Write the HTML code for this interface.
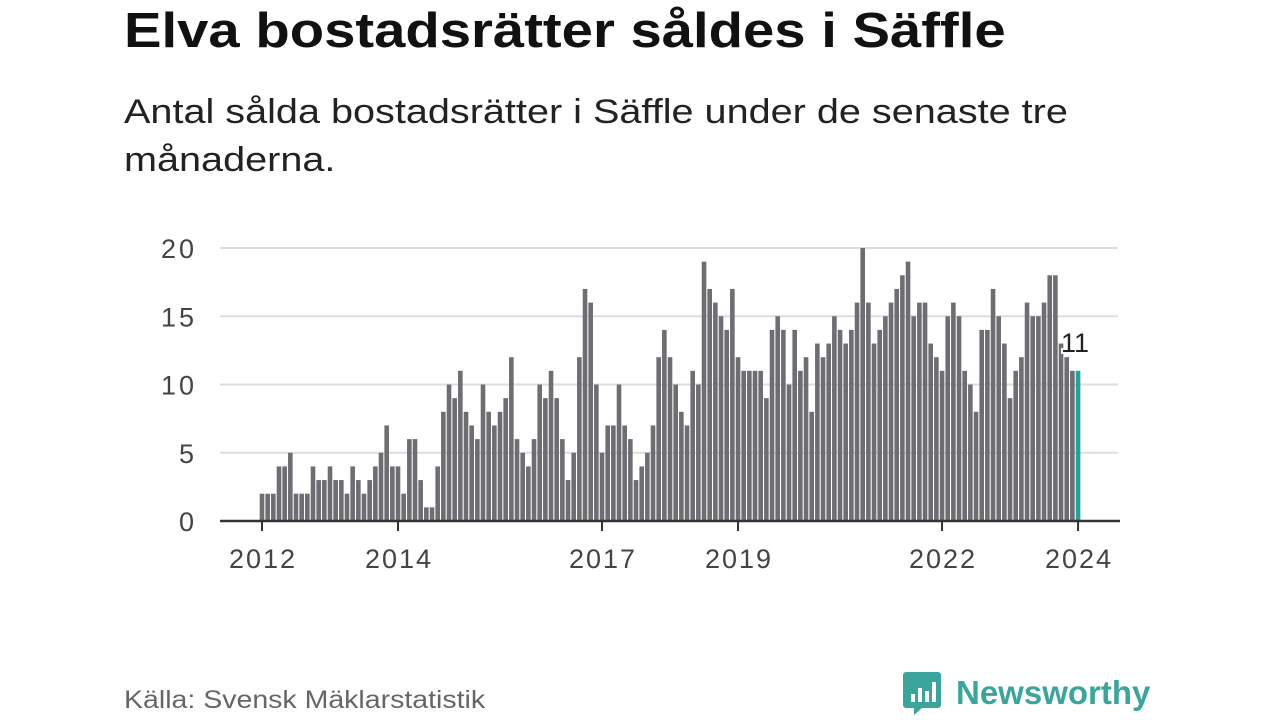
<!DOCTYPE html>
<html><head><meta charset="utf-8"><style>
body{margin:0;width:1280px;height:720px;background:#fff;font-family:"Liberation Sans",sans-serif;overflow:hidden;position:relative}
#title{position:absolute;left:124px;top:3px;font-size:49px;font-weight:bold;color:#111;transform:scaleX(1.148);transform-origin:left top;white-space:nowrap}
#sub{position:absolute;left:124px;top:88px;font-size:34px;line-height:48px;color:#222;transform:scaleX(1.165);transform-origin:left top;white-space:nowrap}
#src{position:absolute;left:124px;top:686px;font-size:25px;color:#666;transform:scaleX(1.14);transform-origin:left top;white-space:nowrap}
#logo{position:absolute;left:902px;top:670px;display:flex;align-items:center}
#logo span{font-size:33px;font-weight:bold;color:#3aa69b;margin-left:14px}
svg{position:absolute;left:0;top:0}
</style></head><body>
<div id="title">Elva bostadsrätter såldes i Säffle</div>
<div id="sub">Antal sålda bostadsrätter i Säffle under de senaste tre<br>månaderna.</div>
<svg id="chart" width="1280" height="720"></svg>
<div id="src">Källa: Svensk Mäklarstatistik</div>
<div id="logo">
<svg width="40" height="46" style="position:static"><path d="M4 2h32a3 3 0 0 1 3 3v30a3 3 0 0 1-3 3H20l-8 7v-7H4a3 3 0 0 1-3-3V5a3 3 0 0 1 3-3z" fill="#3aa69b"/><rect x="9" y="24" width="4" height="8" fill="#fff"/><rect x="16" y="18" width="4" height="14" fill="#fff"/><rect x="23" y="21" width="4" height="11" fill="#fff"/><rect x="30" y="12" width="4" height="20" fill="#fff"/></svg>
<span>Newsworthy</span></div>
<script>
const values=[2,2,2,4,4,5,2,2,2,4,3,3,
4,3,3,2,4,3,2,3,4,5,7,4,
4,2,6,6,3,1,1,4,8,10,9,11,
8,7,6,10,8,7,8,9,12,6,5,4,
6,10,9,11,9,6,3,5,12,17,16,10,
5,7,7,10,7,6,3,4,5,7,12,14,
12,10,8,7,11,10,19,17,16,15,14,17,
12,11,11,11,11,9,14,15,14,10,14,11,
12,8,13,12,13,15,14,13,14,16,20,16,
13,14,15,16,17,18,19,15,16,16,13,12,
11,15,16,15,11,10,8,14,14,17,15,13,
9,11,12,16,15,15,16,18,18,13,12,11,11];
const yTicks=[0,5,10,15,20];
const xTickLabels=["2012","2014","2017","2019","2022","2024"];
const xTickIdx=[0,24,60,84,120,144];
const NS="http://www.w3.org/2000/svg",svg=document.getElementById('chart');
const x0=262,step=5.667,yBase=521,yPer=13.65;
const xs=i=>x0+i*step, ys=v=>yBase-v*yPer;
function mk(t,a,txt){const e=document.createElementNS(NS,t);for(const k in a)e.setAttribute(k,a[k]);if(txt!=null)e.textContent=txt;svg.appendChild(e);return e;}
yTicks.forEach(v=>{
 const g=mk('line',{x1:220,x2:1118,y1:ys(v),y2:ys(v),stroke:'#ddd','stroke-width':2});
 
 
 const t=mk('text',{x:194,y:ys(v)+10,'text-anchor':'end','font-size':27,'textLength':String(v).length*16.5,fill:'#444','font-family':'Liberation Sans'},v);
 
 
});
values.forEach((v,i)=>{
 const last=i===values.length-1;
 const r=mk('rect',{x:xs(i)-2.3,y:ys(v),width:4.6,height:v*yPer,fill:last?'#20a39a':'#6e6d72'});
 
 
});
const ax=mk('line',{x1:220,x2:1120,y1:yBase,y2:yBase,stroke:'#333','stroke-width':2.5});


xTickIdx.forEach((idx,k)=>{
 const tk=mk('line',{x1:xs(idx),x2:xs(idx),y1:yBase,y2:yBase+10,stroke:'#333','stroke-width':2});
 
 
 const t=mk('text',{x:xs(idx),y:568,'text-anchor':'middle','font-size':27,'textLength':66,fill:'#444','font-family':'Liberation Sans'},xTickLabels[k]);
 
 
});
const li=values.length-1;
const lab=mk('text',{x:xs(li)-17,y:ys(values[li])-19,'font-size':27,fill:'#222',stroke:'#fff','stroke-width':4,'paint-order':'stroke','font-family':'Liberation Sans'},values[li]);


</script>
</body></html>
